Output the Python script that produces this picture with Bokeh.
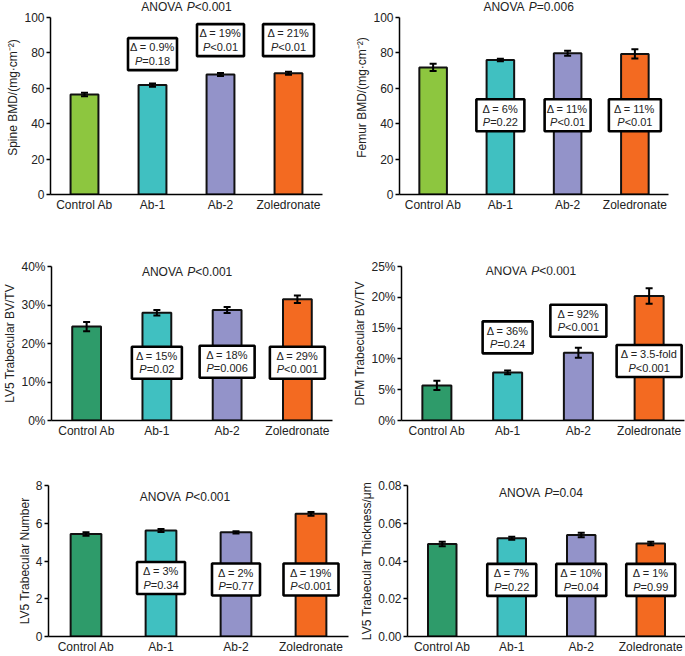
from bokeh.plotting import figure
from bokeh.layouts import column, row
from bokeh.models import (ColumnDataSource, FactorRange, Range1d, Whisker, TeeHead,
                          FixedTicker, PrintfTickFormatter, NumeralTickFormatter)
from bokeh.core.properties import value
from bokeh.embed import file_html
from bokeh.resources import INLINE

# ---------------- data ----------------
groups = ["Control Ab", "Ab-1", "Ab-2", "Zoledronate"]
treated = ["Ab-1", "Ab-2", "Zoledronate"]

spine_bmd = [56.5, 61.8, 67.8, 68.5]
spine_bmd_err = [1.0, 0.9, 0.9, 0.9]
spine_delta = ["Δ = 0.9%", "Δ = 19%", "Δ = 21%"]
spine_p = ["=0.18", "<0.01", "<0.01"]
spine_anova = "<0.001"

femur_bmd = [71.8, 76.0, 79.8, 79.4]
femur_bmd_err = [2.0, 0.7, 1.4, 2.6]
femur_delta = ["Δ = 6%", "Δ = 11%", "Δ = 11%"]
femur_p = ["=0.22", "<0.01", "<0.01"]
femur_anova = "=0.006"

lv5_bvtv = [24.4, 28.0, 28.7, 31.5]
lv5_bvtv_err = [1.2, 0.7, 0.8, 1.0]
lv5_bvtv_delta = ["Δ = 15%", "Δ = 18%", "Δ = 29%"]
lv5_bvtv_p = ["=0.02", "=0.006", "<0.001"]
lv5_bvtv_anova = "<0.001"

dfm_bvtv = [5.7, 7.8, 11.0, 20.2]
dfm_bvtv_err = [0.75, 0.3, 0.8, 1.25]
dfm_bvtv_delta = ["Δ = 36%", "Δ = 92%", "Δ = 3.5-fold"]
dfm_bvtv_p = ["=0.24", "<0.001", "<0.001"]
dfm_bvtv_anova = "<0.001"

lv5_tbn = [5.43, 5.62, 5.52, 6.50]
lv5_tbn_err = [0.09, 0.08, 0.06, 0.10]
lv5_tbn_delta = ["Δ = 3%", "Δ = 2%", "Δ = 19%"]
lv5_tbn_p = ["=0.34", "=0.77", "<0.001"]
lv5_tbn_anova = "<0.001"

lv5_tbth = [0.0490, 0.0520, 0.0538, 0.0493]
lv5_tbth_err = [0.0012, 0.0008, 0.0012, 0.0009]
lv5_tbth_delta = ["Δ = 7%", "Δ = 10%", "Δ = 1%"]
lv5_tbth_p = ["=0.22", "=0.04", "=0.99"]
lv5_tbth_anova = "=0.04"

# ---------------- styles ----------------
FONT = "Liberation Sans"
TXT = "#222222"
LIME = "#8dc63f"
DKGREEN = "#2e9b6a"
TEAL = "#40c0c1"
LAV = "#9393c9"
ORANGE = "#f36a21"

CW = {' ': 0.278, '=': 0.584, '<': 0.584, '%': 0.889, '.': 0.278, '-': 0.333,
      'P': 0.667, 'A': 0.667, 'N': 0.722, 'O': 0.778, 'V': 0.667, 'Δ': 0.668,
      'f': 0.278, 'l': 0.222, 'o': 0.556, 'd': 0.556}


def tw(s, size):
    return sum(CW.get(c, 0.556) for c in s) * size


def mixed(p, x, y, parts, size, yoff=0):
    total = sum(tw(t, size) for t, _ in parts)
    off = -total / 2
    for t, it in parts:
        p.text(x=[x], y=[y], text=[t], x_offset=off, y_offset=yoff,
               text_align="left", text_baseline="middle",
               text_font=value(FONT), text_font_size=f"{size}px",
               text_font_style="italic" if it else "normal", text_color=TXT)
        off += tw(t, size)


def panel(vals, errs, deltas, pvals, anova, ylabel, ctrl_color, y_end, ticks,
          fmt, bounds, width, height, mbl, mbr, mbt, mbb,
          title_x, title_y, box_y, box_w):
    p = figure(x_range=FactorRange(factors=groups, range_padding=0),
               y_range=Range1d(0, y_end), width=width, height=height,
               output_backend="svg", toolbar_location=None,
               min_border_left=mbl, min_border_right=mbr,
               min_border_top=mbt, min_border_bottom=mbb)
    p.outline_line_color = None
    p.xgrid.grid_line_color = None
    p.ygrid.grid_line_color = None
    p.background_fill_color = "white"

    src = ColumnDataSource(dict(
        cat=groups, val=vals,
        up=[v + e for v, e in zip(vals, errs)],
        lo=[v - e for v, e in zip(vals, errs)],
        color=[ctrl_color, TEAL, LAV, ORANGE]))
    p.vbar(x="cat", top="val", width=0.41, source=src, fill_color="color",
           line_color="#111111", line_width=2)
    w = Whisker(source=src, base="cat", upper="up", lower="lo",
                line_color="black", line_width=2, level="overlay",
                upper_head=TeeHead(size=7, line_width=2, line_color="black"),
                lower_head=TeeHead(size=7, line_width=2, line_color="black"))
    p.add_layout(w)

    for cat, d, pv, by, bw in zip(treated, deltas, pvals, box_y, box_w):
        p.rect(x=[cat], y=[by], width=bw, height=32, width_units="screen",
               height_units="screen", fill_color="white", line_color="black",
               line_width=2.6)
        mixed(p, cat, by, [(d, False)], 11, yoff=-6.7)
        mixed(p, cat, by, [("P", True), (pv, False)], 11, yoff=6.7)

    mixed(p, title_x, title_y, [("ANOVA ", False), ("P", True), (anova, False)], 12)

    p.axis.axis_line_color = "black"
    p.axis.axis_line_width = 1.5
    p.axis.major_label_text_font = FONT
    p.axis.major_label_text_font_size = "12px"
    p.axis.major_label_text_color = TXT
    p.xaxis.major_tick_line_color = None
    p.xaxis.major_tick_out = 0
    p.xaxis.major_tick_in = 0
    p.xaxis.major_label_standoff = 3
    p.yaxis.ticker = FixedTicker(ticks=ticks)
    p.yaxis.formatter = fmt
    p.yaxis.bounds = bounds
    p.yaxis.major_tick_out = 4
    p.yaxis.major_tick_in = 0
    p.yaxis.major_tick_line_width = 1.5
    p.yaxis.major_tick_line_color = "black"
    p.yaxis.minor_tick_line_color = None
    p.yaxis.major_label_standoff = 2
    p.yaxis.axis_label = ylabel
    p.yaxis.axis_label_text_font = FONT
    p.yaxis.axis_label_text_font_size = "12px"
    p.yaxis.axis_label_text_font_style = "normal"
    p.yaxis.axis_label_text_color = TXT
    p.yaxis.axis_label_standoff = 1
    return p


p1 = panel(spine_bmd, spine_bmd_err, spine_delta, spine_p, spine_anova,
           "Spine BMD/(mg·cm⁻²)", LIME, 109.6, [0, 20, 40, 60, 80, 100],
           NumeralTickFormatter(format="0"), (0, 100),
           350, 215, 50, 28, 0, 21, 2.0, 105.9, [79.3, 87.2, 87.2], [49, 47, 51])
p2 = panel(femur_bmd, femur_bmd_err, femur_delta, femur_p, femur_anova,
           "Femur BMD/(mg·cm⁻²)", LIME, 109.6, [0, 20, 40, 60, 80, 100],
           NumeralTickFormatter(format="0"), (0, 100),
           335, 215, 49, 17, 0, 21, 1.92, 105.9, [44.8, 44.8, 44.8], [48, 46, 52])
p3 = panel(lv5_bvtv, lv5_bvtv_err, lv5_bvtv_delta, lv5_bvtv_p, lv5_bvtv_anova,
           "LV5 Trabecular BV/TV", DKGREEN, 40, [0, 10, 20, 30, 40],
           PrintfTickFormatter(format="%d%%"), "auto",
           350, 225, 48, 18, 51, 20, 1.93, 38.5, [15.0, 15.25, 15.0], [50, 55, 55])
p4 = panel(dfm_bvtv, dfm_bvtv_err, dfm_bvtv_delta, dfm_bvtv_p, dfm_bvtv_anova,
           "DFM Trabecular BV/TV", DKGREEN, 25, [0, 5, 10, 15, 20, 25],
           PrintfTickFormatter(format="%d%%"), "auto",
           335, 225, 50, 1, 51, 20, 1.83, 24.3, [13.5, 16.2, 9.65], [50, 56, 65])
p5 = panel(lv5_tbn, lv5_tbn_err, lv5_tbn_delta, lv5_tbn_p, lv5_tbn_anova,
           "LV5 Trabecular Number", DKGREEN, 8, [0, 2, 4, 6, 8],
           NumeralTickFormatter(format="0"), "auto",
           350, 216, 48, 2, 45, 18, 1.82, 7.39, [3.1, 3.02, 3.02], [48, 48, 55])
p6 = panel(lv5_tbth, lv5_tbth_err, lv5_tbth_delta, lv5_tbth_p, lv5_tbth_anova,
           "LV5 Trabecular Thickness/μm", DKGREEN, 0.08, [0, 0.02, 0.04, 0.06, 0.08],
           NumeralTickFormatter(format="0.00"), "auto",
           335, 216, 57, 0, 45, 18, 1.92, 0.076, [0.030, 0.030, 0.030], [49, 50, 49])

layout = column(row(p1, p2), row(p3, p4), row(p5, p6))
open("out.html", "w").write(file_html(layout, INLINE))
